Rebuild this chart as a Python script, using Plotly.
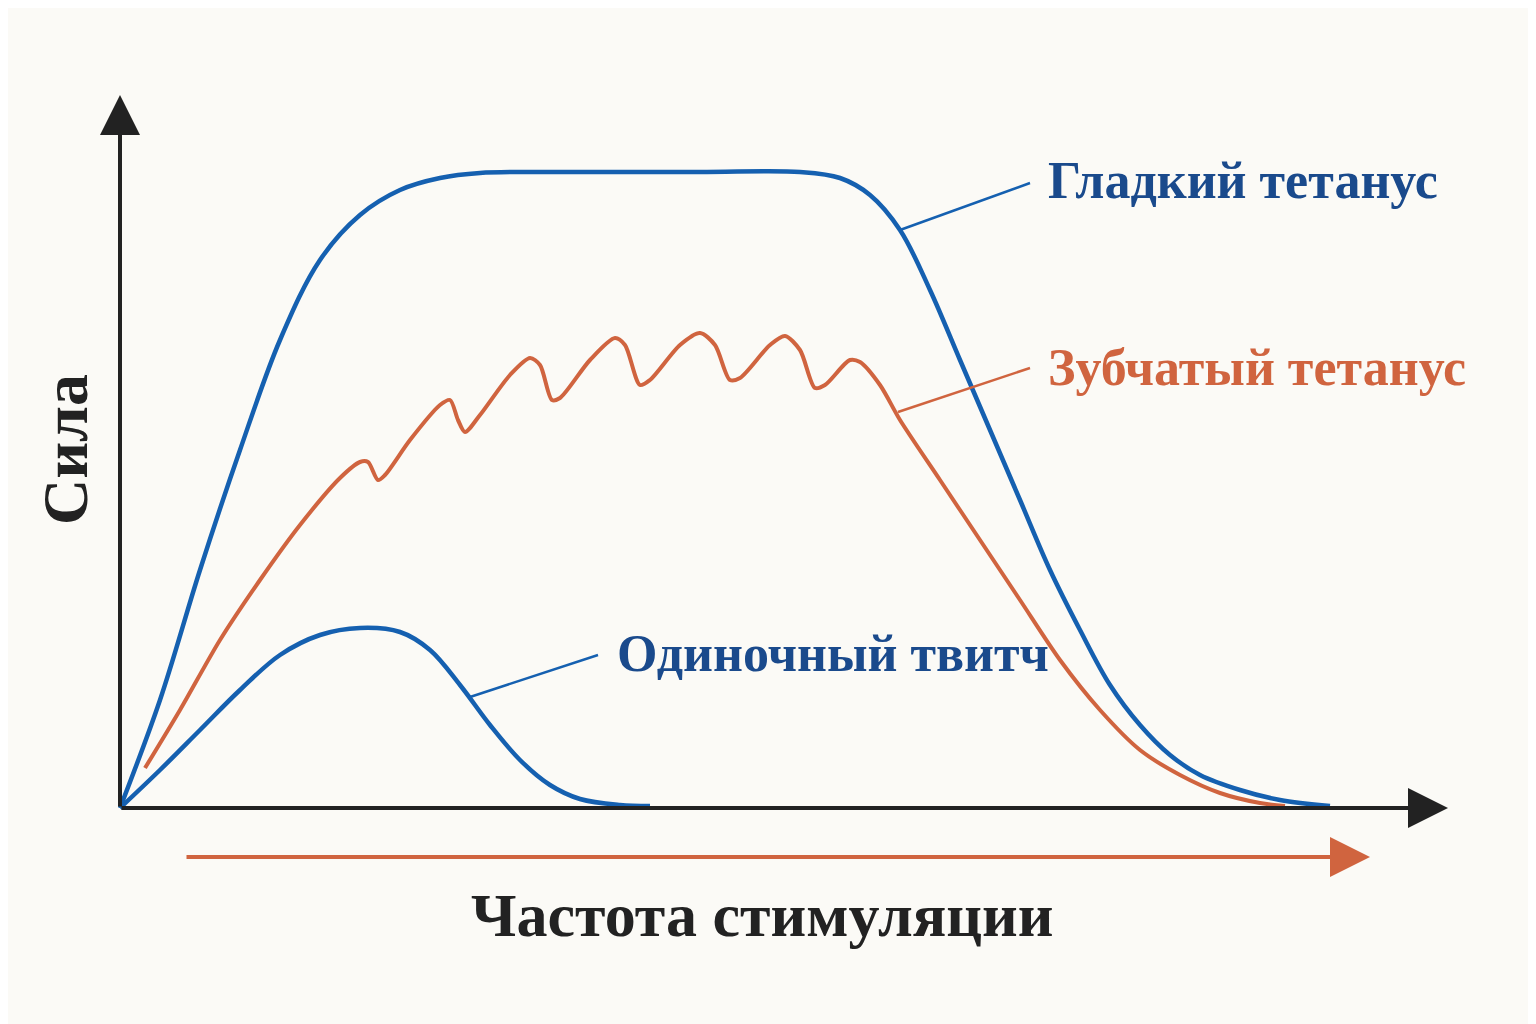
import plotly.graph_objects as go

# Curves (x: stimulation frequency units, y: force units)
smooth_x = [0,40,80,120,160,200,240,280,320,360,440,580,680,720,750,780,810,840,870,900,930,960,990,1020,1050,1080,1120,1160,1210]
smooth_y = [0,108,238,358,468,548,593,618,630,635,636,636,636,630,613,578,518,448,378,308,238,178,123,83,53,33,18,8,2]

serr_x = [25,60,100,140,180,220,240,248,258,265,290,320,330,338,345,360,390,410,420,432,440,470,495,505,520,530,560,580,595,610,620,650,665,680,695,705,730,740,760,780,820,860,900,940,980,1020,1060,1100,1140,1165]
serr_y = [40,98,168,228,283,330,346,346,328,333,368,403,408,388,376,393,433,450,443,408,410,448,470,463,423,428,463,475,463,428,430,463,472,458,420,423,448,446,423,388,328,268,208,148,98,58,33,15,5,2]

twitch_x = [0,40,80,120,160,200,240,280,310,340,370,400,430,460,500,530]
twitch_y = [0,38,78,118,153,173,180,176,158,123,83,48,23,9,3,2]

labels = ["Гладкий тетанус", "Зубчатый тетанус", "Одиночный твитч"]
y_title = "Сила"
x_title = "Частота стимуляции"

BLUE = "#1560b0"; ORANGE = "#d0643f"; DARK = "#222222"; LBLUE = "#1a4a8c"

fig = go.Figure()
fig.add_trace(go.Scatter(x=smooth_x, y=smooth_y, mode="lines", line=dict(color=BLUE, width=4.5, shape="spline"), hoverinfo="skip"))
fig.add_trace(go.Scatter(x=serr_x, y=serr_y, mode="lines", line=dict(color=ORANGE, width=4, shape="spline", smoothing=0.8), hoverinfo="skip"))
fig.add_trace(go.Scatter(x=twitch_x, y=twitch_y, mode="lines", line=dict(color=BLUE, width=4.5, shape="spline"), hoverinfo="skip"))

# leader lines
for (x0, y0, x1, y1, c) in [(780, 578, 910, 625, BLUE), (778, 396, 910, 440, ORANGE), (350, 111, 478, 153, BLUE)]:
    fig.add_shape(type="line", x0=x0, y0=y0, x1=x1, y1=y1, line=dict(color=c, width=2.5))

font = "Liberation Serif"
fig.add_annotation(x=926, y=628, text="<b>" + labels[0] + "</b>", showarrow=False, xanchor="left", font=dict(family=font, size=52, color=LBLUE))
fig.add_annotation(x=926, y=441, text="<b>" + labels[1] + "</b>", showarrow=False, xanchor="left", font=dict(family=font, size=52, color=ORANGE))
fig.add_annotation(x=495, y=155, text="<b>" + labels[2] + "</b>", showarrow=False, xanchor="left", font=dict(family=font, size=52, color=LBLUE))
fig.add_annotation(x=-55, y=358, text="<b>" + y_title + "</b>", textangle=-90, showarrow=False, font=dict(family=font, size=64, color=DARK))
fig.add_annotation(x=642, y=-107, text="<b>" + x_title + "</b>", showarrow=False, font=dict(family=font, size=62, color=DARK))

# axes with arrows
def arrow(x0, y0, x1, y1, color, width, size):
    fig.add_annotation(x=x1, y=y1, ax=x0, ay=y0, xref="x", yref="y", axref="x", ayref="y",
                       showarrow=True, arrowhead=2, arrowsize=size, arrowwidth=width, arrowcolor=color, text="")
arrow(0, 0, 1328, 0, DARK, 4, 2)
arrow(0, 0, 0, 713, DARK, 4, 2)
arrow(65, -49, 1250, -49, ORANGE, 4, 2)

fig.update_layout(width=1536, height=1024, margin=dict(l=0, r=0, t=0, b=0),
                  paper_bgcolor="#fbfaf6", plot_bgcolor="#fbfaf6", showlegend=False,
                  xaxis=dict(range=[-112, 1424], visible=False),
                  yaxis=dict(range=[-224, 800], visible=False))
fig.write_html("out.html")
